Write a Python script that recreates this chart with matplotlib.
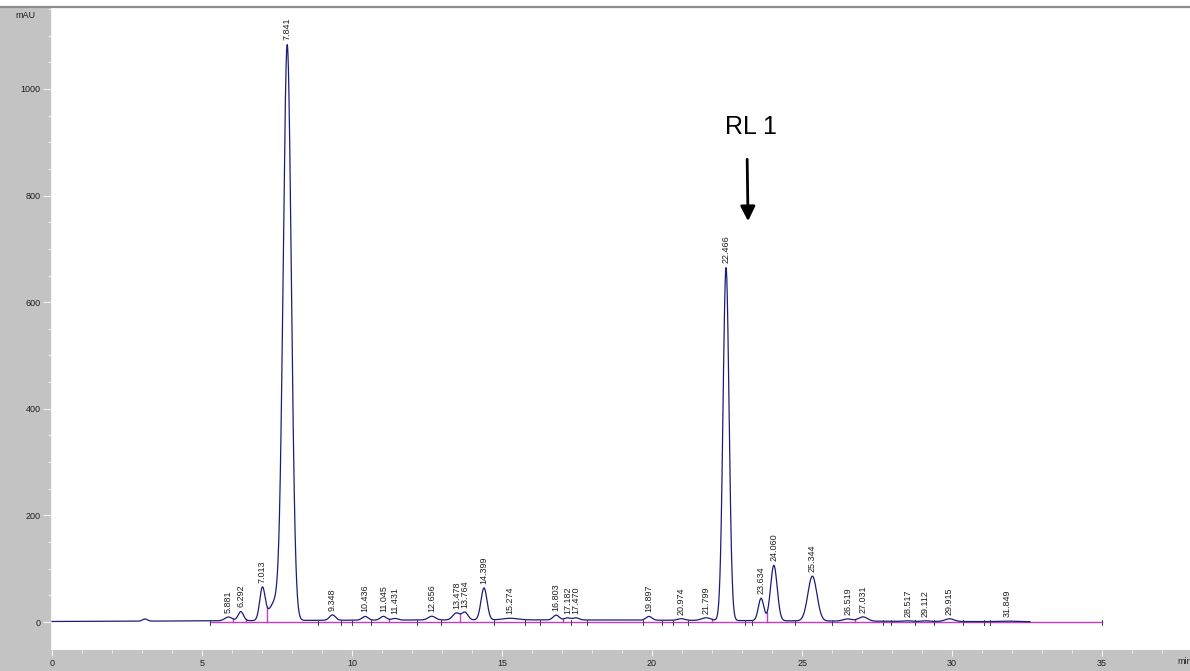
import matplotlib

matplotlib.use("Agg")
import matplotlib.pyplot as plt
import numpy as np
from matplotlib.lines import Line2D
from matplotlib.patches import Rectangle

plt.rcParams["font.family"] = ["Liberation Sans", "DejaVu Sans"]

# integrated peaks: retention time (min), apex height (mAU), gaussian sigma (min)
peak_rt = [5.881, 6.292, 7.013, 7.841, 9.348, 10.436, 11.045, 11.431, 12.656,
           13.478, 13.764, 14.399, 15.274, 16.803, 17.182, 17.470, 19.897,
           20.974, 21.799, 22.466, 23.634, 24.060, 25.344, 26.519, 27.031,
           28.517, 29.112, 29.915, 31.849]
peak_height = [7, 17, 60, 1075, 10, 7, 7, 3, 7,
               13, 14, 60, 3, 9, 4, 4, 7,
               3, 5, 662, 42, 104, 84, 4, 8,
               1, 1, 5, 1]
peak_sigma = [0.12, 0.09, 0.09, 0.135, 0.10, 0.10, 0.10, 0.10, 0.12,
              0.12, 0.10, 0.10, 0.25, 0.10, 0.10, 0.10, 0.10,
              0.12, 0.15, 0.10, 0.09, 0.11, 0.15, 0.15, 0.15,
              0.12, 0.12, 0.15, 0.30]

# unlabelled signal: injection bump, front shoulder of the main peak, baseline drift
extra_rt = [3.10, 7.45, 15.0]
extra_height = [4, 35, 4]
extra_sigma = [0.08, 0.20, 9.0]

run_end = 32.6

# integration events
baseline_start, baseline_end = 5.27, 35.0
drop_times = [6.04, 6.47, 7.18, 11.24, 13.60, 17.03, 22.00, 23.83, 26.77]
event_times = [5.27, 8.87, 9.63, 10.00, 10.63, 12.16, 12.97, 14.73, 15.77,
               16.27, 17.30, 17.82, 19.70, 20.33, 20.70, 21.20, 23.10, 23.33,
               24.77, 26.00, 27.70, 27.97, 28.77, 29.40, 30.37, 31.07, 31.27, 35.0]

x_major = [0, 5, 10, 15, 20, 25, 30, 35]
y_major = [0, 200, 400, 600, 800, 1000]


def signal(t):
    t = np.asarray(t, dtype=float)
    out = np.zeros_like(t)
    for rt, h, s in zip(peak_rt + extra_rt, peak_height + extra_height, peak_sigma + extra_sigma):
        out += h * np.exp(-0.5 * ((t - rt) / s) ** 2)
    return out


W, H = 1190, 671
fig = plt.figure(figsize=(W / 100, H / 100), dpi=100)
fig.patch.set_facecolor("white")
panel = "#c3c3c3"
fig.patches.append(Rectangle((0, 0), 51 / W, (H - 8) / H, transform=fig.transFigure,
                             facecolor=panel, edgecolor="none", zorder=-2))
fig.patches.append(Rectangle((0, 0), 1, 21 / H, transform=fig.transFigure,
                             facecolor=panel, edgecolor="none", zorder=-2))
fig.lines.append(Line2D([0, 1], [1 - 7 / H] * 2, transform=fig.transFigure,
                        color="#8c8c8c", linewidth=1.6, zorder=-1))

ax = fig.add_axes([51 / W, 21 / H, (W - 51) / W, (650 - 9) / H])
ax.set_facecolor("white")
for side in ax.spines.values():
    side.set_visible(False)
ax.axvline(-0.033, color="#f4f4f4", linewidth=1.2)

t = np.arange(0.0, run_end, 0.004)
y = signal(t)
ax.plot(t, y, color="#1c1c78", linewidth=0.9, zorder=3)

# integration baseline, drop lines and event marks
ax.plot([baseline_start, baseline_end], [0, 0], color="#c43cc4", linewidth=1.0, zorder=2)
for td in drop_times:
    ax.plot([td, td], [0, float(signal(td))], color="#c43cc4", linewidth=1.0, zorder=2)
for te in event_times:
    ax.plot([te, te], [-5, 4], color="#404050", linewidth=0.7, zorder=4)

for rt in peak_rt:
    ax.annotate(f"{rt:.3f}", xy=(rt, float(signal(rt))), xytext=(0, 3),
                textcoords="offset points", rotation=90, ha="center", va="bottom",
                fontsize=6.5, color="#202020", zorder=5)

ax.annotate("", xy=(23.2, 752), xytext=(23.17, 868),
            arrowprops=dict(arrowstyle="-|>", color="black", linewidth=2.0,
                            mutation_scale=22, shrinkA=0, shrinkB=0))
ax.text(23.3, 929, "RL 1", fontsize=18, ha="center", va="center", color="black")

ax.set_xlim(-0.033, 37.93)
ax.set_ylim(-52.5, 1150)
ax.set_xticks(x_major)
ax.set_xticks(np.arange(0, 38, 1), minor=True)
ax.set_yticks(y_major)
ax.set_yticks(np.arange(0, 1151, 50), minor=True)
ax.tick_params(axis="both", which="major", direction="out", color="#f4f4f4",
               labelsize=6.5, labelcolor="#202020")
ax.tick_params(axis="x", which="major", length=4, pad=2.5)
ax.tick_params(axis="y", which="major", length=6, pad=1.5)
ax.tick_params(axis="both", which="minor", direction="out", color="#f4f4f4", length=2.5)

fig.text(25 / W, 1 - 15 / H, "mAU", fontsize=6.5, ha="center", va="center", color="#202020")
fig.text(1177 / W, 1 - 661 / H, "min", fontsize=6.5, ha="left", va="center", color="#202020")

fig.savefig("out.png", dpi=100)
plt.close(fig)
